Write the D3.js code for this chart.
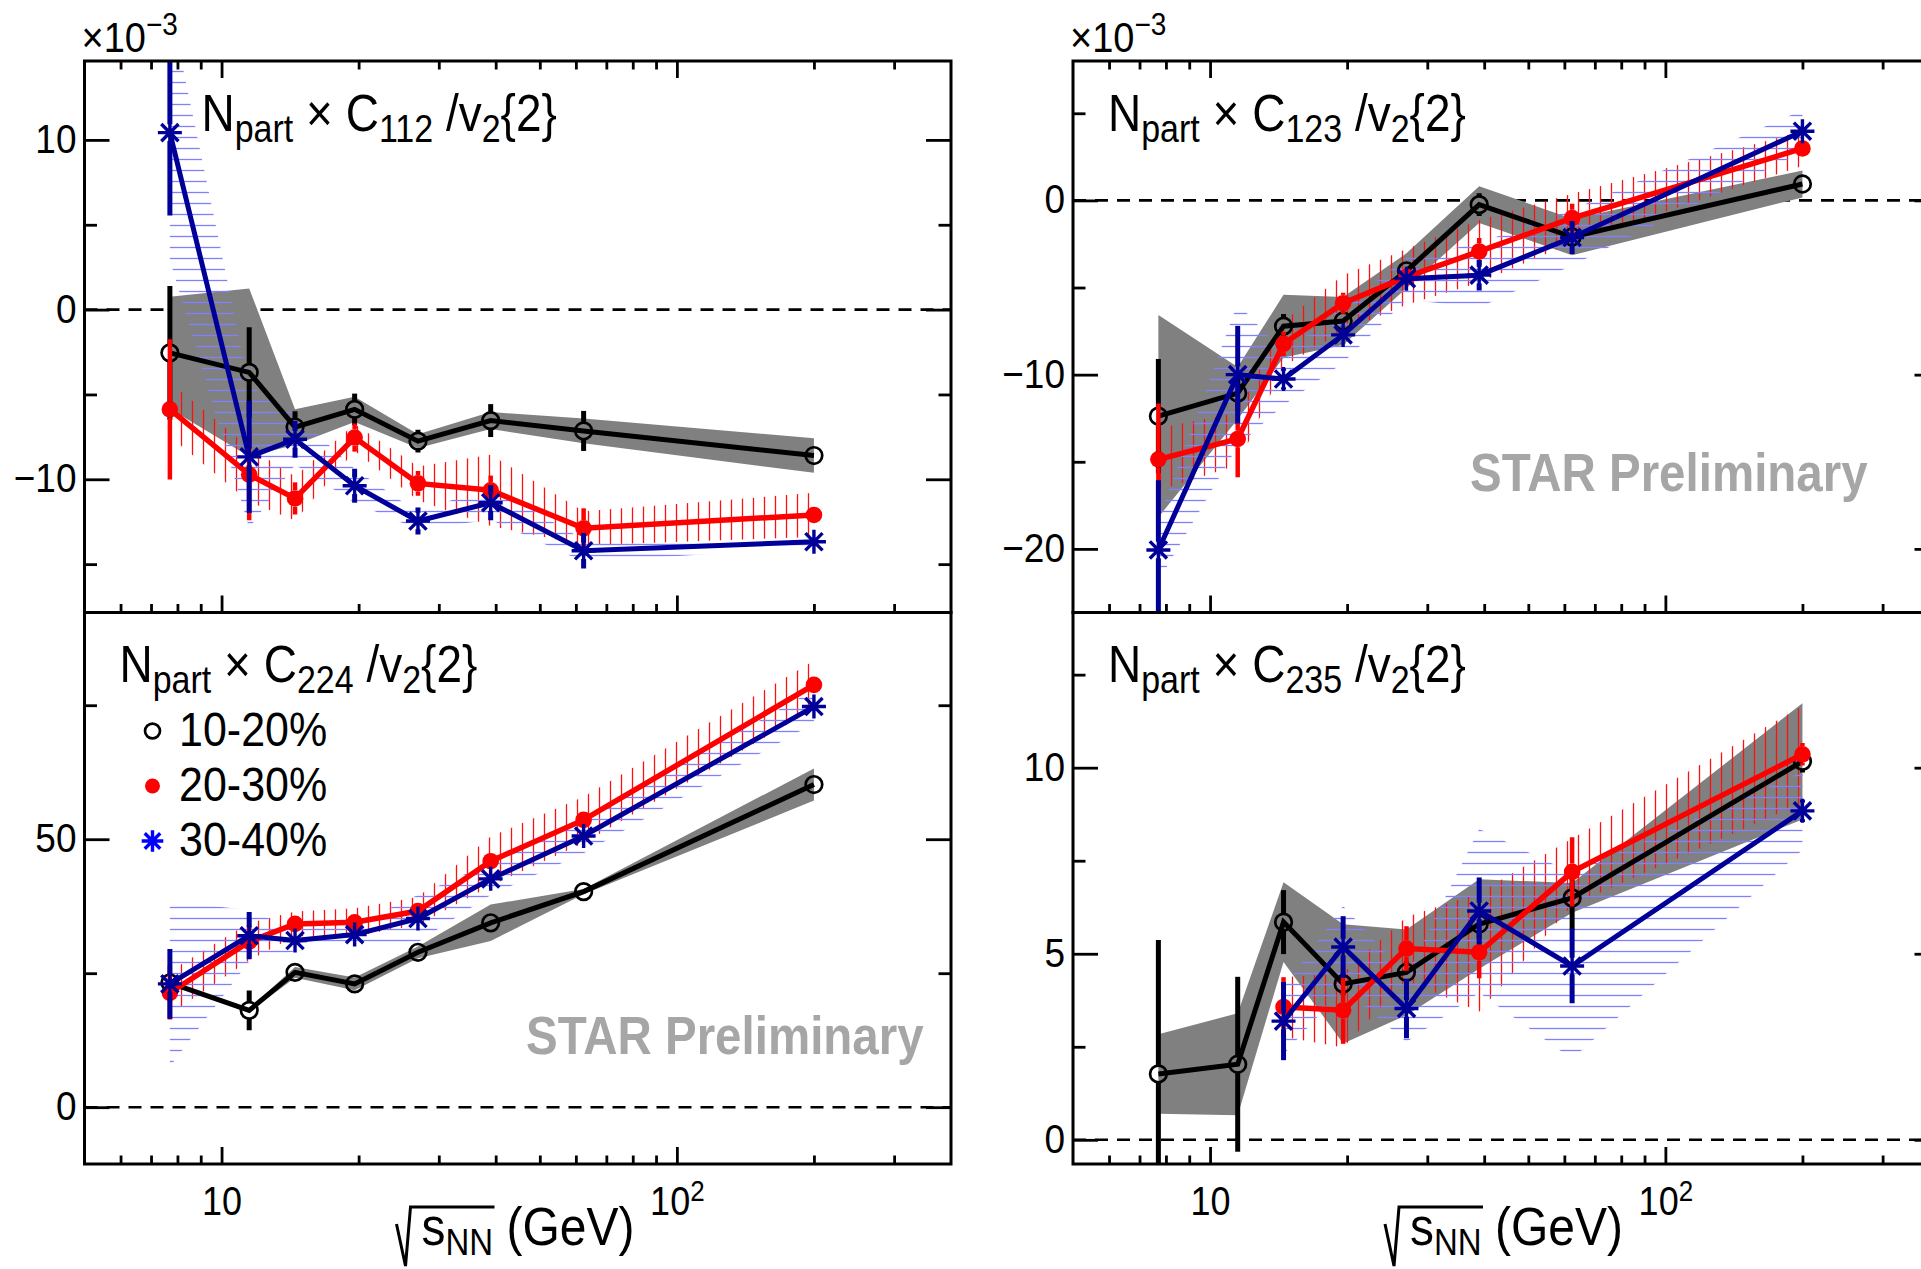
<!DOCTYPE html>
<html>
<head>
<meta charset="utf-8">
<script src="https://cdn.jsdelivr.net/npm/d3@7"></script>
<style>
  body { margin: 0; background: #fff; }
  svg { display: block; }
  text { font-family: "Liberation Sans", Arial, Helvetica, sans-serif; white-space: pre; }
</style>
</head>
<body>
<svg id="chart" width="1921" height="1269"></svg>
<script>
// Beam energies (GeV) and centrality classes
const energies = [7.7, 11.5, 14.5, 19.6, 27, 39, 62.4, 200];
const centralities = ["10-20%", "20-30%", "30-40%"];

// Npart x C112 / v2{2}  (x 10^-3)
const c112_1020      = [-2.55, -3.7, -6.92, -5.88, -7.75, -6.54, -7.15, -8.6];
const c112_1020_stat = [3.94, 2.66, 0.93, 0.93, 0.67, 0.97, 1.18, 0.2];
const c112_1020_sys  = [3.3, 4.95, 1.05, 0.75, 0.4, 0.5, 0.73, 1.02];
const c112_2030      = [-5.88, -9.72, -11.13, -7.54, -10.24, -10.65, -12.89, -12.1];
const c112_2030_stat = [4.13, 2.7, 0.95, 0.83, 0.73, 0.87, 1.18, 0.25];
const c112_2030_sys  = [1.6, 1.6, 1.3, 0.8, 1.0, 2.1, 1.0, 1.3];
const c112_3040      = [10.43, -8.68, -7.64, -10.38, -12.46, -11.38, -14.21, -13.68];
const c112_3040_stat = [4.88, 3.3, 1.09, 1.0, 0.8, 1.04, 1.05, 0.3];
const c112_3040_sys  = [7.5, 4.2, 1.5, 1.0, 0.5, 1.0, 0.65, 0.35];

// Npart x C123 / v2{2}  (x 10^-3)
const c123_1020      = [-12.38, -11.06, -7.22, -6.92, -4.04, -0.24, -2.1, 0.94];
const c123_1020_stat = [3.28, 1.0, 0.7, 0.5, 0.4, 0.65, 0.4, 0.3];
const c123_1020_sys  = [5.8, 1.5, 1.8, 1.38, 1.0, 1.05, 1.05, 0.77];
const c123_2030      = [-14.86, -13.69, -8.23, -5.9, -4.39, -2.93, -1.02, 2.98];
const c123_2030_stat = [3.2, 2.2, 0.7, 0.6, 0.3, 0.77, 0.83, 0.2];
const c123_2030_sys  = [1.8, 1.5, 1.3, 1.6, 1.6, 1.8, 1.4, 1.0];
const c123_3040      = [-20.06, -10.0, -10.25, -7.72, -4.49, -4.29, -2.13, 3.97];
const c123_3040_stat = [4.0, 2.8, 0.6, 0.5, 0.3, 0.88, 0.95, 0.3];
const c123_3040_sys  = [1.8, 4.1, 1.5, 1.6, 1.2, 1.85, 1.6, 1.2];

// Npart x C224 / v2{2}
const c224_1020      = [23.2, 18.07, 25.16, 23.0, 28.9, 34.4, 40.22, 60.2];
const c224_1020_stat = [0.8, 3.7, 0.8, 0.8, 0.6, 0.6, 0.6, 0.8];
const c224_1020_sys  = [0.3, 0.3, 1.0, 1.2, 1.1, 3.4, 0.5, 3.0];
const c224_2030      = [21.35, 30.9, 34.2, 34.5, 36.6, 45.9, 53.6, 78.8];
const c224_2030_stat = [5.0, 3.0, 0.8, 0.8, 0.8, 1.0, 1.0, 0.8];
const c224_2030_sys  = [4.0, 3.5, 2.3, 2.6, 2.6, 4.6, 4.3, 4.5];
const c224_3040      = [23.0, 32.0, 31.1, 32.2, 35.2, 42.6, 50.6, 74.75];
const c224_3040_stat = [6.5, 4.4, 1.0, 1.0, 1.0, 1.2, 1.0, 0.8];
const c224_3040_sys  = [15.4, 4.8, 2.0, 2.0, 4.4, 3.0, 3.2, 3.1];

// Npart x C235 / v2{2}
const c235_1020      = [1.77, 2.03, 5.85, 4.19, 4.5, 5.8, 6.5, 10.17];
const c235_1020_stat = [3.6, 2.35, 0.86, 0.3, 0.3, 0.4, 0.85, 0.3];
const c235_1020_sys  = [1.07, 1.37, 1.07, 1.6, 1.15, 1.2, 0.4, 1.56];
const c235_2030      = [null, null, 3.57, 3.48, 5.14, 5.04, 7.2, 10.36];
const c235_2030_stat = [null, null, 0.8, 0.9, 0.6, 0.7, 0.93, 0.3];
const c235_2030_sys  = [null, null, 0.8, 1.0, 0.85, 1.6, 0.9, 1.3];
const c235_3040      = [null, null, 3.19, 5.18, 3.53, 6.15, 4.67, 8.84];
const c235_3040_stat = [null, null, 1.05, 0.83, 0.8, 0.9, 1.0, 0.3];
const c235_3040_sys  = [null, null, 0.9, 1.1, 0.9, 2.2, 2.5, 1.05];

// Axis tick values
const xMajorTicks = [10, 100];
const xMinorTicks = [6, 7, 8, 9, 20, 30, 40, 50, 60, 70, 80, 90, 200, 300];
const c112_yMajor = [-10, 0, 10],  c112_yMinor = [-15, -5, 5];
const c123_yMajor = [-20, -10, 0], c123_yMinor = [-15, -5, 5];
const c224_yMajor = [0, 50],       c224_yMinor = [25, 75];
const c235_yMajor = [0, 5, 10],    c235_yMinor = [2.5, 7.5, 12.5];

// ---------------------------------------------------------------------------
const TEXT_STRETCH = 1.12;   // glyphs are drawn slightly taller than wide
const svg = d3.select("#chart");
svg.append("rect").attr("width", 1921).attr("height", 1269).attr("fill", "#fff");
const defs = svg.append("defs");

const hatchRed = defs.append("pattern").attr("id", "hatch-red")
  .attr("patternUnits", "userSpaceOnUse").attr("width", 11).attr("height", 22);
hatchRed.append("line").attr("x1", 5.5).attr("x2", 5.5).attr("y1", 0).attr("y2", 22)
  .attr("stroke", "#ff1010").attr("stroke-width", 1.3);
const hatchBlue = defs.append("pattern").attr("id", "hatch-blue")
  .attr("patternUnits", "userSpaceOnUse").attr("width", 22).attr("height", 11);
hatchBlue.append("line").attr("x1", 0).attr("x2", 22).attr("y1", 5.5).attr("y2", 5.5)
  .attr("stroke", "#8080ff").attr("stroke-width", 1.3);

const seriesStyle = [
  { color: "#000000", band: "#808080",          marker: "circle", lw: 5,   ew: 5 },
  { color: "#ff0000", band: "url(#hatch-red)",  marker: "dot",    lw: 5.5, ew: 4.5 },
  { color: "#000099", band: "url(#hatch-blue)", marker: "star",   lw: 5,   ew: 5 }
];
const MARKER_R = 8.3;

function drawMarker(g, type, cx, cy, color, scale = 1) {
  if (type === "circle") {
    g.append("circle").attr("cx", cx).attr("cy", cy).attr("r", MARKER_R * scale)
      .attr("fill", "none").attr("stroke", color).attr("stroke-width", 2.7);
  } else if (type === "dot") {
    g.append("circle").attr("cx", cx).attr("cy", cy).attr("r", MARKER_R * scale).attr("fill", color);
  } else {
    const a = 12 * scale, b = 8.6 * scale;
    g.append("path")
      .attr("d", `M${cx - a},${cy}H${cx + a}M${cx},${cy - a}V${cy + a}` +
                 `M${cx - b},${cy - b}L${cx + b},${cy + b}M${cx - b},${cy + b}L${cx + b},${cy - b}`)
      .attr("stroke", color).attr("stroke-width", 3.4).attr("fill", "none");
  }
}

// Text with TLatex-like subscripts / superscripts
function richText(g, x, y, parts, size, subSize, shift, extra = {}) {
  const t = g.append("text").attr("transform", `translate(${x},${y}) scale(1,${TEXT_STRETCH})`)
    .attr("font-size", size).attr("fill", extra.fill || "#000");
  if (extra.weight) t.attr("font-weight", extra.weight);
  let cur = 0;
  parts.forEach(p => {
    const want = p.sub ? shift : (p.sup ? -shift : 0);
    const ts = t.append("tspan").attr("font-size", (p.sub || p.sup) ? subSize : size).text(p.t);
    if (want !== cur) { ts.attr("dy", want - cur); cur = want; }
  });
  return t;
}

function drawPanel(cfg) {
  const { x0, y0, w, h, yDomain, yMajor, yMinor, topTicks, xLabels, multiplier, label, data } = cfg;
  const x = d3.scaleLog().domain([5, 400]).range([x0, x0 + w]);
  const y = d3.scaleLinear().domain(yDomain).range([y0 + h, y0]);
  const g = svg.append("g");

  const clipId = "clip-" + cfg.id;
  defs.append("clipPath").attr("id", clipId)
    .append("rect").attr("x", x0).attr("y", y0).attr("width", w).attr("height", h);
  const plot = g.append("g").attr("clip-path", `url(#${clipId})`);

  // zero reference line
  plot.append("line").attr("x1", x0).attr("x2", x0 + w).attr("y1", y(0)).attr("y2", y(0))
    .attr("stroke", "#000").attr("stroke-width", 2.6).attr("stroke-dasharray", "13,9");

  const rows = data.map(s => energies.map((e, i) => ({ e, v: s.v[i], st: s.stat[i], sy: s.sys[i] })));

  // systematic bands
  rows.forEach((pts, k) => {
    const area = d3.area()
      .defined(d => d.v != null)
      .x(d => x(d.e)).y0(d => y(d.v - d.sy)).y1(d => y(d.v + d.sy));
    plot.append("path").datum(pts).attr("d", area).attr("fill", seriesStyle[k].band).attr("stroke", "none");
  });

  // connecting lines, statistical bars, markers
  rows.forEach((pts, k) => {
    const st = seriesStyle[k];
    const valid = pts.filter(d => d.v != null);
    const line = d3.line().x(d => x(d.e)).y(d => y(d.v));
    plot.append("path").datum(valid).attr("d", line).attr("fill", "none")
      .attr("stroke", st.color).attr("stroke-width", st.lw).attr("stroke-linejoin", "miter");
    valid.forEach(d => {
      const cx = x(d.e), cy = y(d.v);
      const top = y(d.v + d.st), bot = y(d.v - d.st);
      const gap = MARKER_R;
      if (cy - top > gap) plot.append("line").attr("x1", cx).attr("x2", cx).attr("y1", top).attr("y2", cy - gap)
        .attr("stroke", st.color).attr("stroke-width", st.ew);
      if (bot - cy > gap) plot.append("line").attr("x1", cx).attr("x2", cx).attr("y1", cy + gap).attr("y2", bot)
        .attr("stroke", st.color).attr("stroke-width", st.ew);
      drawMarker(plot, st.marker, cx, cy, st.color);
    });
  });

  // axes (ticks pointing inwards)
  const styleAxis = sel => {
    sel.select(".domain").remove();
    sel.selectAll(".tick line").attr("stroke", "#000").attr("stroke-width", 2.8);
    sel.selectAll(".tick text").attr("font-size", 37).attr("fill", "#000")
      .attr("font-family", '"Liberation Sans", Arial, Helvetica, sans-serif');
  };
  const fmtY = d => (d < 0 ? "\u2212" + Math.abs(d) : String(d));
  g.append("g").attr("transform", `translate(${x0},0)`)
    .call(d3.axisLeft(y).tickValues(yMajor).tickSizeInner(-25).tickSizeOuter(0).tickPadding(8).tickFormat(fmtY))
    .call(styleAxis)
    .call(s => s.selectAll(".tick text").attr("dy", "0.3em").attr("transform", `scale(1,${TEXT_STRETCH})`));
  g.append("g").attr("transform", `translate(${x0},0)`)
    .call(d3.axisLeft(y).tickValues(yMinor).tickSizeInner(-12.5).tickSizeOuter(0).tickFormat(""))
    .call(styleAxis);
  g.append("g").attr("transform", `translate(${x0 + w},0)`)
    .call(d3.axisRight(y).tickValues(yMajor).tickSizeInner(-25).tickSizeOuter(0).tickFormat(""))
    .call(styleAxis);
  g.append("g").attr("transform", `translate(${x0 + w},0)`)
    .call(d3.axisRight(y).tickValues(yMinor).tickSizeInner(-12.5).tickSizeOuter(0).tickFormat(""))
    .call(styleAxis);

  const bottomMajor = g.append("g").attr("transform", `translate(0,${y0 + h})`)
    .call(d3.axisBottom(x).tickValues(xMajorTicks).tickSizeInner(-17).tickSizeOuter(0).tickPadding(20)
      .tickFormat(xLabels ? (d => "10") : ""))
    .call(styleAxis);
  if (xLabels) {
    bottomMajor.selectAll(".tick text").attr("font-size", 36).attr("transform", `scale(1,${TEXT_STRETCH})`)
      .each(function (d) {
        if (d === 100) d3.select(this).append("tspan").attr("dy", "-0.48em").attr("font-size", 26).text("2");
      });
  }
  g.append("g").attr("transform", `translate(0,${y0 + h})`)
    .call(d3.axisBottom(x).tickValues(xMinorTicks).tickSizeInner(-8.5).tickSizeOuter(0).tickFormat(""))
    .call(styleAxis);
  if (topTicks) {
    g.append("g").attr("transform", `translate(0,${y0})`)
      .call(d3.axisTop(x).tickValues(xMajorTicks).tickSizeInner(-17).tickSizeOuter(0).tickFormat(""))
      .call(styleAxis);
    g.append("g").attr("transform", `translate(0,${y0})`)
      .call(d3.axisTop(x).tickValues(xMinorTicks).tickSizeInner(-8.5).tickSizeOuter(0).tickFormat(""))
      .call(styleAxis);
  }

  // frame
  g.append("rect").attr("x", x0).attr("y", y0).attr("width", w).attr("height", h)
    .attr("fill", "none").attr("stroke", "#000").attr("stroke-width", 3);

  if (multiplier) {
    richText(g, x0 - 3, y0 - 9, [{ t: "\u00d710" }, { t: "\u22123", sup: true }], 38, 28, 15);
  }

  // panel label
  richText(g, x0 + label.dx, y0 + label.dy,
    [{ t: "N" }, { t: "part", sub: true }, { t: " \u00d7 C" }, { t: label.idx, sub: true },
     { t: " /v" }, { t: "2", sub: true }, { t: "{2}" }], 46, 34, 10);

  if (xLabels) {
    // sqrt(s_NN) (GeV)
    const bx = x0 + 313;
    g.append("path")
      .attr("d", `M${bx - 1},1224 L${bx + 8},1266 L${bx + 13},1207 L${bx + 97},1207`)
      .attr("fill", "none").attr("stroke", "#000").attr("stroke-width", 3);
    richText(g, bx + 24, 1245, [{ t: "s" }, { t: "NN", sub: true }, { t: " (GeV)" }], 48, 33, 9);
  }
  return { x, y, g };
}

const LEFT = 84.5, RIGHT = 1073, W = 866.5, TOP = 61, MID = 612.5, H = 551.5;

drawPanel({
  id: "c112", x0: LEFT, y0: TOP, w: W, h: H, yDomain: [-17.85, 14.65],
  yMajor: c112_yMajor, yMinor: c112_yMinor, topTicks: true, xLabels: false, multiplier: true,
  label: { idx: "112", dx: 117, dy: 70 },
  data: [
    { v: c112_1020, stat: c112_1020_stat, sys: c112_1020_sys },
    { v: c112_2030, stat: c112_2030_stat, sys: c112_2030_sys },
    { v: c112_3040, stat: c112_3040_stat, sys: c112_3040_sys }
  ]
});
drawPanel({
  id: "c123", x0: RIGHT, y0: TOP, w: W, h: H, yDomain: [-23.65, 8.0],
  yMajor: c123_yMajor, yMinor: c123_yMinor, topTicks: true, xLabels: false, multiplier: true,
  label: { idx: "123", dx: 35, dy: 70 },
  data: [
    { v: c123_1020, stat: c123_1020_stat, sys: c123_1020_sys },
    { v: c123_2030, stat: c123_2030_stat, sys: c123_2030_sys },
    { v: c123_3040, stat: c123_3040_stat, sys: c123_3040_sys }
  ]
});
drawPanel({
  id: "c224", x0: LEFT, y0: MID, w: W, h: H, yDomain: [-10.6, 92.3],
  yMajor: c224_yMajor, yMinor: c224_yMinor, topTicks: false, xLabels: true, multiplier: false,
  label: { idx: "224", dx: 35, dy: 69 },
  data: [
    { v: c224_1020, stat: c224_1020_stat, sys: c224_1020_sys },
    { v: c224_2030, stat: c224_2030_stat, sys: c224_2030_sys },
    { v: c224_3040, stat: c224_3040_stat, sys: c224_3040_sys }
  ]
});
drawPanel({
  id: "c235", x0: RIGHT, y0: MID, w: W, h: H, yDomain: [-0.65, 14.17],
  yMajor: c235_yMajor, yMinor: c235_yMinor, topTicks: false, xLabels: true, multiplier: false,
  label: { idx: "235", dx: 35, dy: 69 },
  data: [
    { v: c235_1020, stat: c235_1020_stat, sys: c235_1020_sys },
    { v: c235_2030, stat: c235_2030_stat, sys: c235_2030_sys },
    { v: c235_3040, stat: c235_3040_stat, sys: c235_3040_sys }
  ]
});

// legend
const legendColors = ["#000000", "#ff0000", "#0000ff"];
const legend = svg.append("g");
centralities.forEach((c, i) => {
  const cy = 731 + i * 55;
  drawMarker(legend, seriesStyle[i].marker, 152.5, cy, legendColors[i], 0.9);
  richText(legend, 179, cy + 15, [{ t: c }], 43, 43, 0);
});

// watermark
[[1470, 491], [526, 1054]].forEach(([tx, ty]) => {
  richText(svg, tx, ty, [{ t: "STAR Preliminary" }], 47.5, 47.5, 0, { fill: "#a6a6a6", weight: "bold" });
});
</script>
</body>
</html>
